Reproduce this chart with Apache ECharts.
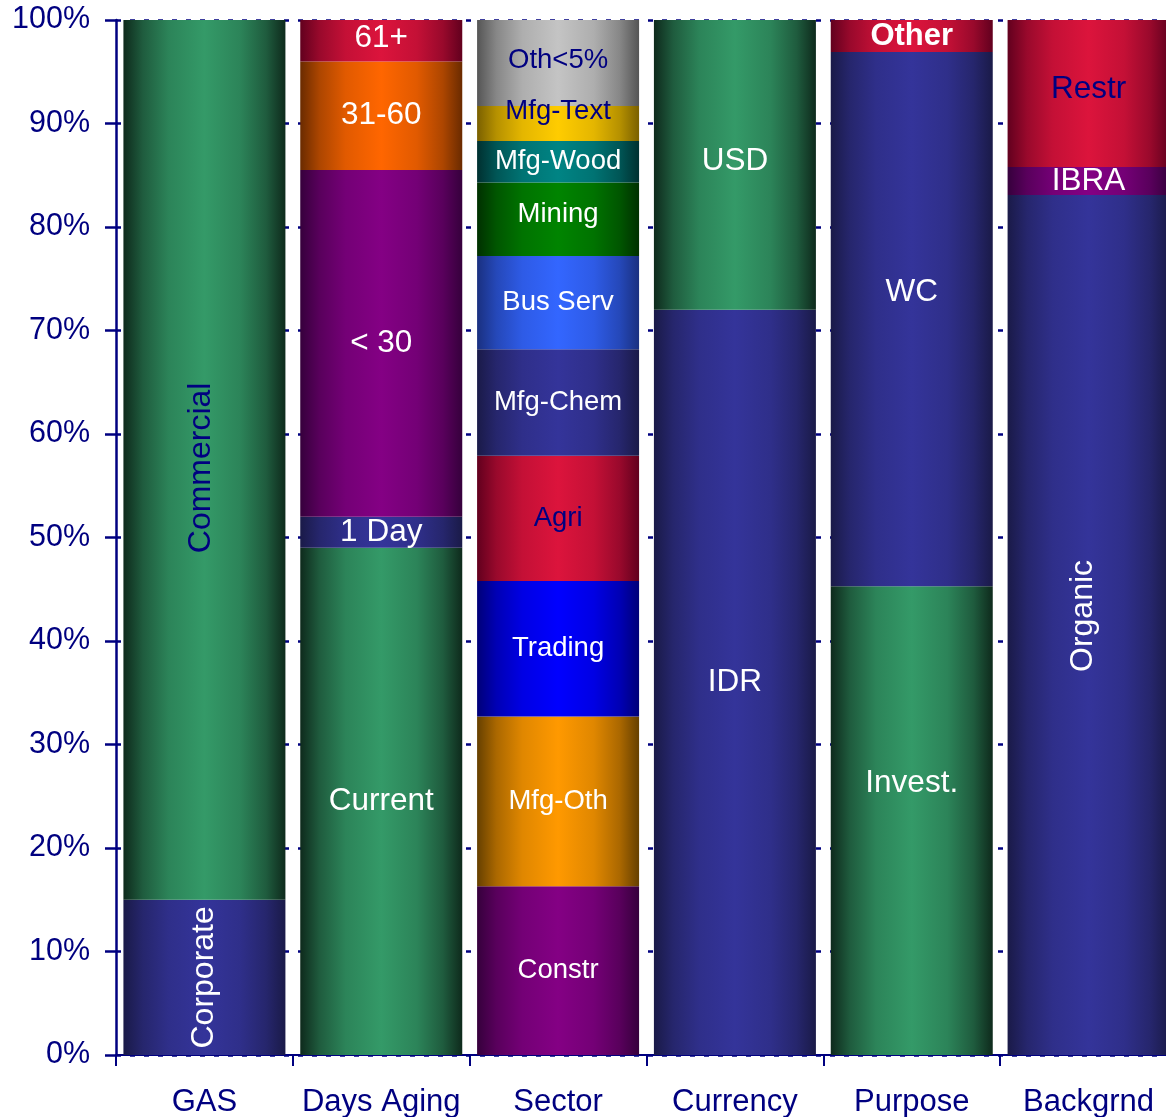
<!DOCTYPE html>
<html>
<head>
<meta charset="utf-8">
<title>Portfolio Composition</title>
<script src="https://cdn.jsdelivr.net/npm/echarts@6/dist/echarts.min.js"></script>
<style>
  html, body { margin: 0; padding: 0; background: #ffffff; }
  #chart { width: 1166px; height: 1117px; }
</style>
</head>
<body>
<div id="chart"></div>
<script>
// Category axis
const categories = ['GAS', 'Days Aging', 'Sector', 'Currency', 'Purpose', 'Backgrnd'];

// Segment names and shares (%) for each column, listed bottom to top
const gasNames = ['Corporate', 'Commercial'];
const gasValues = [15, 85];

const agingNames = ['Current', '1 Day', '< 30', '31-60', '61+'];
const agingValues = [49, 3, 33.5, 10.5, 4];

const sectorNames = ['Constr', 'Mfg-Oth', 'Trading', 'Agri', 'Mfg-Chem', 'Bus Serv', 'Mining', 'Mfg-Wood', 'Mfg-Text', 'Oth<5%'];
const sectorValues = [16.3, 16.4, 13.1, 12.1, 10.3, 9.0, 7.1, 4.0, 3.4, 8.3];

const currencyNames = ['IDR', 'USD'];
const currencyValues = [72, 28];

const purposeNames = ['Invest.', 'WC', 'Other'];
const purposeValues = [45.3, 51.6, 3.1];

const backgroundNames = ['Organic', 'IBRA', 'Restr'];
const backgroundValues = [83.1, 2.7, 14.2];

// Value axis ticks
const yTickMin = 0;
const yTickMax = 100;
const yTickStep = 10;

const columns = [
  { names: gasNames, values: gasValues },
  { names: agingNames, values: agingValues },
  { names: sectorNames, values: sectorValues },
  { names: currencyNames, values: currencyValues },
  { names: purposeNames, values: purposeValues },
  { names: backgroundNames, values: backgroundValues }
];

// ---- styling ----
const NAVY = '#000080';
const FONT = '"Liberation Sans", Arial, Helvetica, sans-serif';

// [edge colour, centre colour] for the horizontal shading of each fill
const palette = {
  green:   ['#0e2a1c', '#349a68'],
  indigo:  ['#1a1a48', '#34349a'],
  crimson: ['#62001e', '#dc143c'],
  orange:  ['#6a2b00', '#ff6600'],
  purple:  ['#36003c', '#840084'],
  gray:    ['#555555', '#c4c4c4'],
  gold:    ['#7a6000', '#ffcc00'],
  teal:    ['#003030', '#008484'],
  forest:  ['#003000', '#008400'],
  sky:     ['#1a3080', '#3366ff'],
  blue:    ['#000078', '#0000ff'],
  amber:   ['#664000', '#ff9900']
};

// per-segment look: fill, text colour, size, rotation, bold, offset
// (offsets of rotated labels are given in the label's own rotated frame)
const segmentStyle = {
  'Corporate':  { fill: 'indigo',  color: '#ffffff', size: 32, rotate: 90 },
  'Commercial': { fill: 'green',   color: NAVY,      size: 32, rotate: 90, offset: [-8, -3] },
  'Current':    { fill: 'green',   color: '#ffffff', size: 31.5 },
  '1 Day':      { fill: 'indigo',  color: '#ffffff', size: 31.5 },
  '< 30':       { fill: 'purple',  color: '#ffffff', size: 31.5 },
  '31-60':      { fill: 'orange',  color: '#ffffff', size: 31.5 },
  '61+':        { fill: 'crimson', color: '#ffffff', size: 31.5, offset: [0, -2] },
  'Constr':     { fill: 'purple',  color: '#ffffff', size: 27.5 },
  'Mfg-Oth':    { fill: 'amber',   color: '#ffffff', size: 27.5 },
  'Trading':    { fill: 'blue',    color: '#ffffff', size: 27.5 },
  'Agri':       { fill: 'crimson', color: NAVY,      size: 27.5 },
  'Mfg-Chem':   { fill: 'indigo',  color: '#ffffff', size: 27.5 },
  'Bus Serv':   { fill: 'sky',     color: '#ffffff', size: 27.5 },
  'Mining':     { fill: 'forest',  color: '#ffffff', size: 27.5, offset: [0, -5] },
  'Mfg-Wood':   { fill: 'teal',    color: '#ffffff', size: 27.5 },
  'Mfg-Text':   { fill: 'gold',    color: NAVY,      size: 27.5, offset: [0, -12] },
  'Oth<5%':     { fill: 'gray',    color: NAVY,      size: 27.5, offset: [0, -3] },
  'IDR':        { fill: 'indigo',  color: '#ffffff', size: 31.5 },
  'USD':        { fill: 'green',   color: '#ffffff', size: 31.5, offset: [0, -4] },
  'Invest.':    { fill: 'green',   color: '#ffffff', size: 31.5, offset: [0, -37] },
  'WC':         { fill: 'indigo',  color: '#ffffff', size: 31.5, offset: [0, -27] },
  'Other':      { fill: 'crimson', color: '#ffffff', size: 31, bold: true },
  'Organic':    { fill: 'indigo',  color: '#ffffff', size: 32, rotate: 90, offset: [9, -5] },
  'IBRA':       { fill: 'purple',  color: '#ffffff', size: 31.5 },
  'Restr':      { fill: 'crimson', color: NAVY,      size: 31.5, offset: [0, -4] }
};

function hexToRgb(h) {
  const n = parseInt(h.slice(1), 16);
  return [(n >> 16) & 255, (n >> 8) & 255, n & 255];
}
function mix(a, b, t) {
  const ca = hexToRgb(a), cb = hexToRgb(b);
  const c = ca.map((v, i) => Math.round(v + (cb[i] - v) * t));
  return 'rgb(' + c.join(',') + ')';
}
function shade(key) {
  const [edge, mid] = palette[key];
  return {
    type: 'linear', x: 0, y: 0, x2: 1, y2: 0,
    colorStops: [
      { offset: 0,    color: edge },
      { offset: 0.12, color: mix(edge, mid, 0.45) },
      { offset: 0.28, color: mix(edge, mid, 0.8) },
      { offset: 0.5,  color: mid },
      { offset: 0.72, color: mix(edge, mid, 0.8) },
      { offset: 0.88, color: mix(edge, mid, 0.45) },
      { offset: 1,    color: edge }
    ]
  };
}

// one stacked series per segment, each occupying only its own column
const series = [];
columns.forEach((col, ci) => {
  col.names.forEach((name, si) => {
    const st = segmentStyle[name];
    const data = categories.map((_, k) => (k === ci ? col.values[si] : '-'));
    series.push({
      name: name,
      type: 'bar',
      stack: 'share',
      barWidth: 162,
      data: data,
      itemStyle: { color: shade(st.fill) },
      label: {
        show: true,
        position: 'inside',
        formatter: name,
        color: st.color,
        fontFamily: FONT,
        fontSize: st.size,
        fontWeight: st.bold ? 'bold' : 'normal',
        rotate: st.rotate || 0,
        offset: st.offset || [0, 0]
      },
      emphasis: { disabled: true }
    });
  });
});

const chart = echarts.init(document.getElementById('chart'), null, { renderer: 'canvas' });
chart.setOption({
  backgroundColor: '#ffffff',
  animation: false,
  grid: {
    left: 116,
    top: 20,
    width: 1061,
    height: 1035,
    containLabel: false,
    outerBoundsMode: 'none'
  },
  xAxis: {
    type: 'category',
    data: categories,
    axisLine: { show: true, lineStyle: { color: NAVY, width: 2 } },
    axisTick: { show: true, length: 11, lineStyle: { color: NAVY, width: 2 } },
    axisLabel: { color: NAVY, fontFamily: FONT, fontSize: 31, margin: 32, interval: 0 },
    splitLine: { show: false }
  },
  yAxis: {
    type: 'value',
    min: yTickMin,
    max: yTickMax,
    interval: yTickStep,
    axisLine: { show: true, lineStyle: { color: NAVY, width: 2.5 } },
    axisTick: { show: true, length: 11, lineStyle: { color: NAVY, width: 2.5 } },
    axisLabel: { color: NAVY, fontFamily: FONT, fontSize: 30.5, margin: 26, formatter: '{value}%' },
    splitLine: { show: true, lineStyle: { color: NAVY, width: 2.5, type: [5, 9] } }
  },
  series: series
});
</script>
</body>
</html>
